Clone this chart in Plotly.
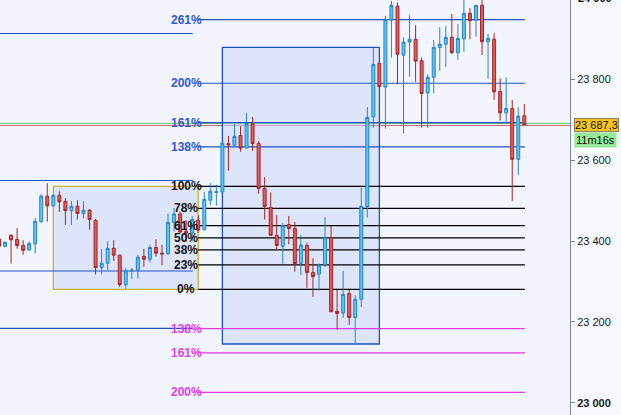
import plotly.graph_objects as go

# ---- candle data (index 0..87) ----
opens = [23405, 23387, 23414, 23404, 23389, 23378, 23393, 23448, 23511, 23487,
         23513, 23498, 23475, 23486, 23468, 23476, 23451, 23334, 23345, 23382,
         23365, 23292, 23326, 23328, 23362, 23355, 23384, 23370, 23368, 23446,
         23467, 23424, 23420, 23452, 23428, 23501, 23520, 23521, 23641, 23637,
         23661, 23630, 23690, 23641, 23530, 23483, 23414, 23387, 23441, 23431,
         23345, 23389, 23322, 23318, 23342, 23408, 23226, 23222, 23270, 23211,
         23256, 23485, 23707, 23839, 23781, 23947, 23981, 23860, 23892, 23899,
         23846, 23766, 23805, 23879, 23887, 23904, 23866, 23900, 23963, 23946,
         23983, 23893, 23899, 23770, 23717, 23728, 23602, 23710]
highs = [23407, 23398, 23417, 23432, 23402, 23399, 23457, 23516, 23543, 23516,
         23523, 23506, 23499, 23501, 23499, 23479, 23454, 23380, 23400, 23402,
         23366, 23333, 23333, 23366, 23381, 23391, 23404, 23391, 23467, 23482,
         23473, 23452, 23461, 23464, 23522, 23543, 23539, 23643, 23660, 23690,
         23684, 23717, 23707, 23647, 23558, 23520, 23464, 23445, 23462, 23447,
         23415, 23396, 23357, 23345, 23459, 23438, 23279, 23326, 23279, 23266,
         23532, 23731, 23878, 23840, 23957, 23994, 23990, 23904, 23959, 23934,
         23854, 23812, 23897, 23929, 23932, 23962, 23937, 23998, 23976, 23983,
         23998, 23912, 23914, 23802, 23805, 23749, 23731, 23739]
lows = [23385, 23386, 23344, 23381, 23366, 23376, 23369, 23445, 23448, 23486,
        23472, 23440, 23440, 23453, 23456, 23428, 23317, 23317, 23328, 23351,
        23286, 23281, 23306, 23307, 23336, 23347, 23362, 23340, 23366, 23424,
        23420, 23398, 23399, 23420, 23427, 23489, 23487, 23519, 23574, 23636,
        23621, 23629, 23623, 23517, 23453, 23414, 23378, 23344, 23392, 23324,
        23316, 23284, 23262, 23277, 23335, 23225, 23181, 23210, 23192, 23145,
        23237, 23458, 23680, 23781, 23678, 23854, 23788, 23666, 23806, 23794,
        23680, 23680, 23765, 23821, 23831, 23862, 23848, 23868, 23899, 23905,
        23860, 23801, 23749, 23698, 23691, 23499, 23563, 23687.3]
closes = [23387, 23397, 23403, 23389, 23377, 23394, 23449, 23511, 23487, 23513,
          23497, 23475, 23486, 23468, 23476, 23453, 23334, 23345, 23382, 23365,
          23292, 23326, 23328, 23360, 23355, 23384, 23370, 23368, 23446, 23467,
          23422, 23420, 23453, 23427, 23503, 23523, 23522, 23642, 23638, 23659,
          23630, 23690, 23641, 23530, 23486, 23414, 23389, 23438, 23431, 23344,
          23390, 23322, 23312, 23340, 23408, 23225, 23221, 23268, 23211, 23256,
          23486, 23706, 23837, 23782, 23948, 23983, 23862, 23892, 23899, 23845,
          23765, 23805, 23879, 23887, 23904, 23866, 23901, 23963, 23945, 23983,
          23893, 23901, 23769, 23717, 23728, 23602, 23709, 23687.3]
idx = list(range(len(opens)))

# ---- fibonacci tool ----
fib_low = 23280.6
fib_high = 23535.4
retr_ratios = [0.0, 0.236, 0.382, 0.5, 0.618, 0.786, 1.0]
retr_labels = ["0%", "23%", "38%", "50%", "61%", "78%", "100%"]
ext_up_ratios = [1.382, 1.618, 2.0, 2.618]
ext_up_labels = ["138%", "161%", "200%", "261%"]
ext_dn_ratios = [1.382, 1.618, 2.0]
ext_dn_labels = ["138%", "161%", "200%"]

# older blue levels on the left
old_levels = [23913.3, 23549.7, 23325.8, 23184.0]

# rectangles (candle index span, price span)
yellow_rect = dict(i0=9, i1=33, p0=fib_low, p1=fib_high)
blue_rect = dict(i0=37, i1=63, p0=23145.2, p1=23879.2)

# current price
last_price = 23687.3
ask_price = 23691.0
timer_text = "11m16s"

y_range = [22969.6, 23996.2]
tick_vals = [23000, 23200, 23400, 23600, 23800]
tick_text = ["<b>23 000</b>", "23 200", "23 400", "23 600", "23 800"]
top_tick = 24000
top_tick_text = "<b>24 000</b>"

fig = go.Figure()
fig.add_trace(go.Candlestick(
    x=idx, open=opens, high=highs, low=lows, close=closes,
    increasing=dict(fillcolor="#5cc4f2", line=dict(color="#2585c6", width=1)),
    decreasing=dict(fillcolor="#e05c5c", line=dict(color="#a82424", width=1)),
    whiskerwidth=0, hoverinfo="skip", showlegend=False,
))

LINE_X0 = 33
LINE_X1 = 87.1
LABEL_X = 31
BLUE = "#2150c8"
MAG = "#e636e0"
FONT = "Liberation Sans, Arial"

shapes = []
# bid / ask lines across the whole chart
shapes.append(dict(type="line", xref="paper", x0=0, x1=1, yref="y", y0=ask_price, y1=ask_price,
                   line=dict(color="#5cc45c", width=1), layer="below"))
shapes.append(dict(type="line", xref="paper", x0=0, x1=1, yref="y", y0=last_price - 1.5, y1=last_price - 1.5,
                   line=dict(color="#c86a6a", width=1), layer="below"))
# rectangles
shapes.append(dict(type="rect", xref="x", yref="y", x0=yellow_rect["i0"], x1=yellow_rect["i1"],
                   y0=yellow_rect["p0"], y1=yellow_rect["p1"],
                   line=dict(color="#cbb530", width=1.3), fillcolor="rgba(196,210,246,0.45)", layer="below"))
shapes.append(dict(type="rect", xref="x", yref="y", x0=blue_rect["i0"], x1=blue_rect["i1"],
                   y0=blue_rect["p0"], y1=blue_rect["p1"],
                   line=dict(color=BLUE, width=1.3), fillcolor="rgba(196,210,246,0.45)", layer="below"))
# old blue levels
for lv in old_levels:
    shapes.append(dict(type="line", xref="x", yref="y", x0=0, x1=32.1, y0=lv, y1=lv,
                       line=dict(color=BLUE, width=1.2), layer="below"))

annotations = []
rng = fib_high - fib_low
for r, lab in zip(retr_ratios, retr_labels):
    lv = fib_low + r * rng
    shapes.append(dict(type="line", xref="x", yref="y", x0=LINE_X0, x1=LINE_X1, y0=lv, y1=lv,
                       line=dict(color="#000000", width=1.2), layer="below"))
    annotations.append(dict(x=LABEL_X, y=lv, xref="x", yref="y", text="<b>%s</b>" % lab, showarrow=False,
                            xanchor="center", yanchor="middle",
                            font=dict(family=FONT, size=12, color="#111111")))
for r, lab in zip(ext_up_ratios, ext_up_labels):
    lv = fib_low + r * rng
    shapes.append(dict(type="line", xref="x", yref="y", x0=LINE_X0, x1=LINE_X1, y0=lv, y1=lv,
                       line=dict(color=BLUE, width=1.2), layer="below"))
    annotations.append(dict(x=LABEL_X, y=lv, xref="x", yref="y", text="<b>%s</b>" % lab, showarrow=False,
                            xanchor="center", yanchor="middle",
                            font=dict(family=FONT, size=12, color="#3358d0")))
for r, lab in zip(ext_dn_ratios, ext_dn_labels):
    lv = fib_high - r * rng
    shapes.append(dict(type="line", xref="x", yref="y", x0=LINE_X0, x1=LINE_X1, y0=lv, y1=lv,
                       line=dict(color=MAG, width=1.2), layer="below"))
    annotations.append(dict(x=LABEL_X, y=lv, xref="x", yref="y", text="<b>%s</b>" % lab, showarrow=False,
                            xanchor="center", yanchor="middle",
                            font=dict(family=FONT, size=12, color="#e040e0")))

# price tag and timer
annotations.append(dict(x=1, y=last_price, xref="paper", yref="y", text="23 687,3", showarrow=False,
                        xanchor="left", yanchor="middle", xshift=4,
                        bgcolor="#f9c31c", bordercolor="#8b7d5b", borderwidth=1, borderpad=0,
                        font=dict(family=FONT, size=11, color="#111111")))
annotations.append(dict(x=1, y=last_price, xref="paper", yref="y", text=timer_text, showarrow=False,
                        xanchor="left", yanchor="middle", xshift=4, yshift=-15,
                        bgcolor="#96e896", borderpad=1,
                        font=dict(family=FONT, size=11, color="#111111")))
# top tick label (its tick lies just above the visible range)
top_frac = (top_tick - y_range[0]) / (y_range[1] - y_range[0])
annotations.append(dict(x=1, y=top_frac, xref="paper", yref="paper", text=top_tick_text, showarrow=False,
                        xanchor="left", yanchor="middle", xshift=6,
                        font=dict(family=FONT, size=11, color="#111111")))

fig.update_layout(
    width=621, height=415,
    margin=dict(l=0, r=51, t=0, b=0),
    paper_bgcolor="#f7f9fe",
    plot_bgcolor="#f2f5fd",
    shapes=shapes,
    annotations=annotations,
    separators=", ",
    showlegend=False,
    xaxis=dict(range=[0.17, 94.57], showticklabels=False, showgrid=False, zeroline=False,
               showline=False, ticks="", rangeslider=dict(visible=False), fixedrange=True),
    yaxis=dict(range=y_range, side="right", showgrid=False, zeroline=False,
               showline=True, linecolor="#7c8a98", linewidth=1,
               ticks="outside", ticklen=4, tickcolor="#7c8a98",
               tickvals=tick_vals, ticktext=tick_text,
               tickfont=dict(family=FONT, size=11, color="#1a1a1a"),
               fixedrange=True),
)

fig.write_html("out.html", config={"displayModeBar": False},
               post_script="document.body.style.margin='0px';document.body.style.padding='0px';document.body.style.overflow='hidden';")
